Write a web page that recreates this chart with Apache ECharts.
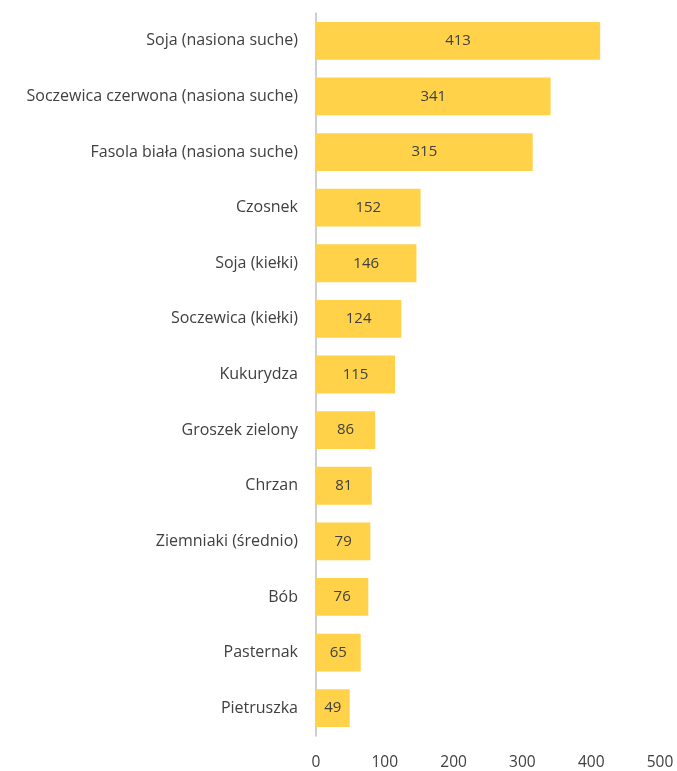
<!DOCTYPE html>
<html>
<head>
<meta charset="utf-8">
<script src="https://cdn.jsdelivr.net/npm/echarts@6/dist/echarts.min.js"></script>
<style>
  html, body { margin: 0; padding: 0; background: #fff; }
  #chart { width: 677px; height: 771px; }
</style>
</head>
<body>
<div id="chart"></div>
<script>
// Products, listed top to bottom
const categories = [
  'Soja (nasiona suche)',
  'Soczewica czerwona (nasiona suche)',
  'Fasola biała (nasiona suche)',
  'Czosnek',
  'Soja (kiełki)',
  'Soczewica (kiełki)',
  'Kukurydza',
  'Groszek zielony',
  'Chrzan',
  'Ziemniaki (średnio)',
  'Bób',
  'Pasternak',
  'Pietruszka'
];
const values = [413, 341, 315, 152, 146, 124, 115, 86, 81, 79, 76, 65, 49];
const xTicks = [0, 100, 200, 300, 400, 500];

const fontFamily = '"Open Sans", "Noto Sans", sans-serif';
const textColor = '#404040';

const chart = echarts.init(document.getElementById('chart'), null, { renderer: 'canvas' });
chart.setOption({
  animation: false,
  grid: { left: 316, right: 17, top: 13, bottom: 34 },
  xAxis: {
    type: 'value',
    min: xTicks[0],
    max: xTicks[xTicks.length - 1],
    interval: xTicks[1] - xTicks[0],
    axisLine: { show: false },
    axisTick: { show: false },
    splitLine: { show: false },
    axisLabel: { color: textColor, fontSize: 15.5, fontFamily: fontFamily, margin: 19 }
  },
  yAxis: {
    type: 'category',
    data: categories,
    inverse: true,
    axisLine: { show: true, lineStyle: { color: '#bfbfbf', width: 1.5 } },
    axisTick: { show: false },
    axisLabel: { color: textColor, fontSize: 16, fontFamily: fontFamily, margin: 18 }
  },
  series: [{
    type: 'bar',
    data: values,
    barCategoryGap: '32%',
    itemStyle: { color: '#FFD24A' },
    label: {
      show: true,
      position: 'inside',
      color: textColor,
      fontSize: 15,
      fontFamily: fontFamily
    }
  }]
});
</script>
</body>
</html>
